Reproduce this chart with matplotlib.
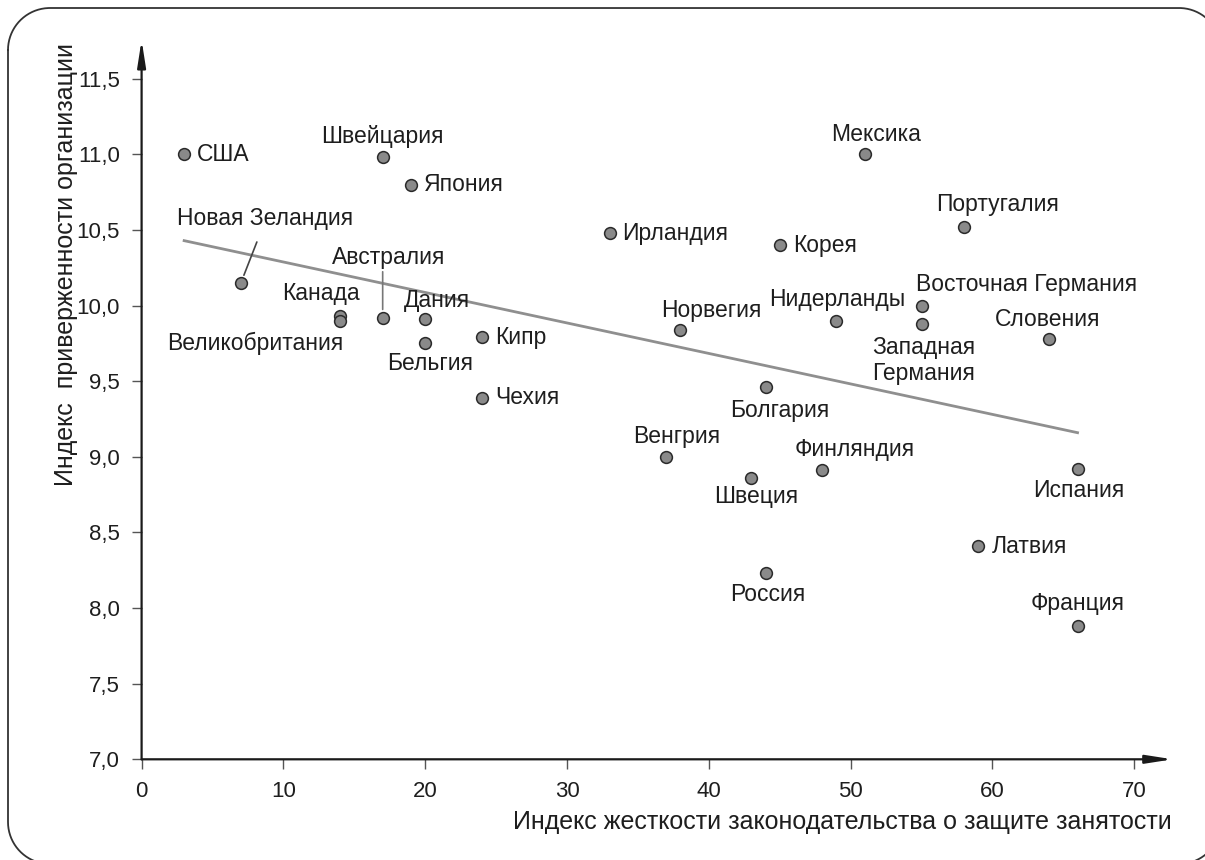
import matplotlib
matplotlib.use("Agg")
import numpy as np
import matplotlib.pyplot as plt

plt.rcParams["font.family"] = ["Liberation Sans", "DejaVu Sans"]

# -----------------------------------------------------
# data
# -----------------------------------------------------
countries = [
    "США", "Швейцария", "Япония", "Новая Зеландия", "Канада",
    "Великобритания", "Австралия", "Дания", "Бельгия", "Кипр",
    "Чехия", "Ирландия", "Мексика", "Корея", "Португалия",
    "Норвегия", "Нидерланды", "Восточная Германия", "Западная\nГермания",
    "Словения", "Болгария", "Венгрия", "Швеция", "Финляндия",
    "Испания", "Латвия", "Россия", "Франция",
]
strictness = [
    3, 17, 19, 7, 14,
    14, 17, 20, 20, 24,
    24, 33, 51, 45, 58,
    38, 49, 55, 55,
    64, 44, 37, 43, 48,
    66, 59, 44, 66,
]
commitment = [
    11.00, 10.98, 10.80, 10.15, 9.93,
    9.90, 9.92, 9.91, 9.75, 9.79,
    9.39, 10.48, 11.00, 10.40, 10.52,
    9.84, 9.90, 10.00, 9.88,
    9.78, 9.46, 9.00, 8.86, 8.91,
    8.92, 8.41, 8.23, 7.88,
]

# trend line ends, as drawn in the picture
trend_x = [3, 66]
trend_y = [10.43, 9.16]

x_ticks = [0, 10, 20, 30, 40, 50, 60, 70]
y_ticks = [7.0, 7.5, 8.0, 8.5, 9.0, 9.5, 10.0, 10.5, 11.0, 11.5]
y_ticklabels = ["7,0", "7,5", "8,0", "8,5", "9,0", "9,5",
                "10,0", "10,5", "11,0", "11,5"]

x_label = "Индекс жесткости законодательства о защите занятости"
y_label = "Индекс  приверженности организации"

# label placement: (dx, dy) in pixels (dy up), horizontal alignment
placement = {
    "США": (13, 0, "left"),
    "Швейцария": (0, 21, "center"),
    "Япония": (13, 0, "left"),
    "Новая Зеландия": (24, 64, "center"),
    "Канада": (-19, 23, "center"),
    "Великобритания": (-85, -23, "center"),
    "Австралия": (6, 60, "center"),
    "Дания": (12, 19, "center"),
    "Бельгия": (5, -20, "center"),
    "Кипр": (13, 0, "left"),
    "Чехия": (13, 0, "left"),
    "Ирландия": (13, 0, "left"),
    "Мексика": (11, 20, "center"),
    "Корея": (13, 0, "left"),
    "Португалия": (33, 23, "center"),
    "Норвегия": (31, 19, "center"),
    "Нидерланды": (1, 21, "center"),
    "Восточная Германия": (-6, 21, "left"),
    "Западная\nГермания": (2, -37, "center"),
    "Словения": (-2, 19, "center"),
    "Болгария": (14, -23, "center"),
    "Венгрия": (10, 20, "center"),
    "Швеция": (5, -18, "center"),
    "Финляндия": (32, 21, "center"),
    "Испания": (1, -22, "center"),
    "Латвия": (13, 0, "left"),
    "Россия": (2, -21, "center"),
    "Франция": (0, 23, "center"),
}

# leader lines: end offset (dx, dy) in pixels from the point, colour
leaders = {
    "Новая Зеландия": ((16, 41), "#444444"),
    "Австралия": ((0, 46), "#777777"),
}

# -----------------------------------------------------
# figure
# -----------------------------------------------------
fig = plt.figure(figsize=(12.05, 8.6), dpi=100)

# rounded frame around the picture, in pixel units (y down)
bg = fig.add_axes([0, 0, 1, 1], zorder=-1)
bg.set_xlim(0, 1205)
bg.set_ylim(860, 0)
bg.axis("off")

left, top, right, bottom, r = 8, 8, 1221, 864, 42
t = np.linspace(0, np.pi / 2, 40)
frame_x = np.concatenate([
    left + r - r * np.cos(t),            # top-left corner
    right - r + r * np.sin(t),           # top-right corner
    right - r + r * np.cos(t),           # bottom-right corner
    left + r - r * np.sin(t),            # bottom-left corner
    [left],
])
frame_y = np.concatenate([
    top + r - r * np.sin(t),
    top + r - r * np.cos(t),
    bottom - r + r * np.sin(t),
    bottom - r + r * np.cos(t),
    [top + r],
])
bg.plot(frame_x, frame_y, color="#333333", lw=1.3, clip_on=False)

ax = fig.add_axes([0.11751, 0.11709, 0.85568, 0.83640])
ax.set_xlim(0, 72.71)
ax.set_ylim(7.0, 11.757)
ax.patch.set_alpha(0)

for s in ax.spines.values():
    s.set_visible(False)

ax.plot(trend_x, trend_y, color="#8f8f8f", lw=2, zorder=2)

ax.scatter(strictness, commitment, s=72, color="#8a8a8a",
           edgecolor="#2a2a2a", linewidth=1.1, zorder=3, clip_on=False)

for name, xv, yv in zip(countries, strictness, commitment):
    dx, dy, ha = placement[name]
    ax.annotate(name, (xv, yv), xytext=(dx, dy), textcoords="offset pixels",
                ha=ha, va="center", fontsize=16.5, color="#1e1e1e",
                linespacing=1.15, zorder=4)
    if name in leaders:
        (x1, y1), c = leaders[name]
        ax.annotate("", (xv, yv), xytext=(x1, y1),
                    textcoords="offset pixels",
                    arrowprops=dict(arrowstyle="-", color=c, lw=1.2,
                                    shrinkA=0, shrinkB=6))

# axes with arrow heads
arrow = dict(arrowstyle="-|>,head_length=1.6,head_width=0.25",
             color="#1a1a1a", lw=1.6, mutation_scale=10,
             shrinkA=0, shrinkB=0)
ax.annotate("", xy=(1, 0), xytext=(0, 0), xycoords="axes fraction",
            arrowprops=arrow, zorder=5)
ax.annotate("", xy=(0, 1), xytext=(0, 0), xycoords="axes fraction",
            arrowprops=arrow, zorder=5)

ax.set_xticks(x_ticks)
ax.set_xticklabels([str(v) for v in x_ticks])
ax.set_yticks(y_ticks)
ax.set_yticklabels(y_ticklabels)
ax.tick_params(direction="out", length=7.5, width=1, color="#555555",
               labelsize=16, labelcolor="#1e1e1e", pad=8)

fig.text(1172 / 1205, 1 - 829 / 860, x_label, ha="right", va="baseline",
         fontsize=18, color="#1e1e1e")
fig.text(66 / 1205, 1 - 43 / 860, y_label, ha="center", va="top",
         rotation=90, fontsize=18, color="#1e1e1e")

fig.savefig("out.png", dpi=100)
